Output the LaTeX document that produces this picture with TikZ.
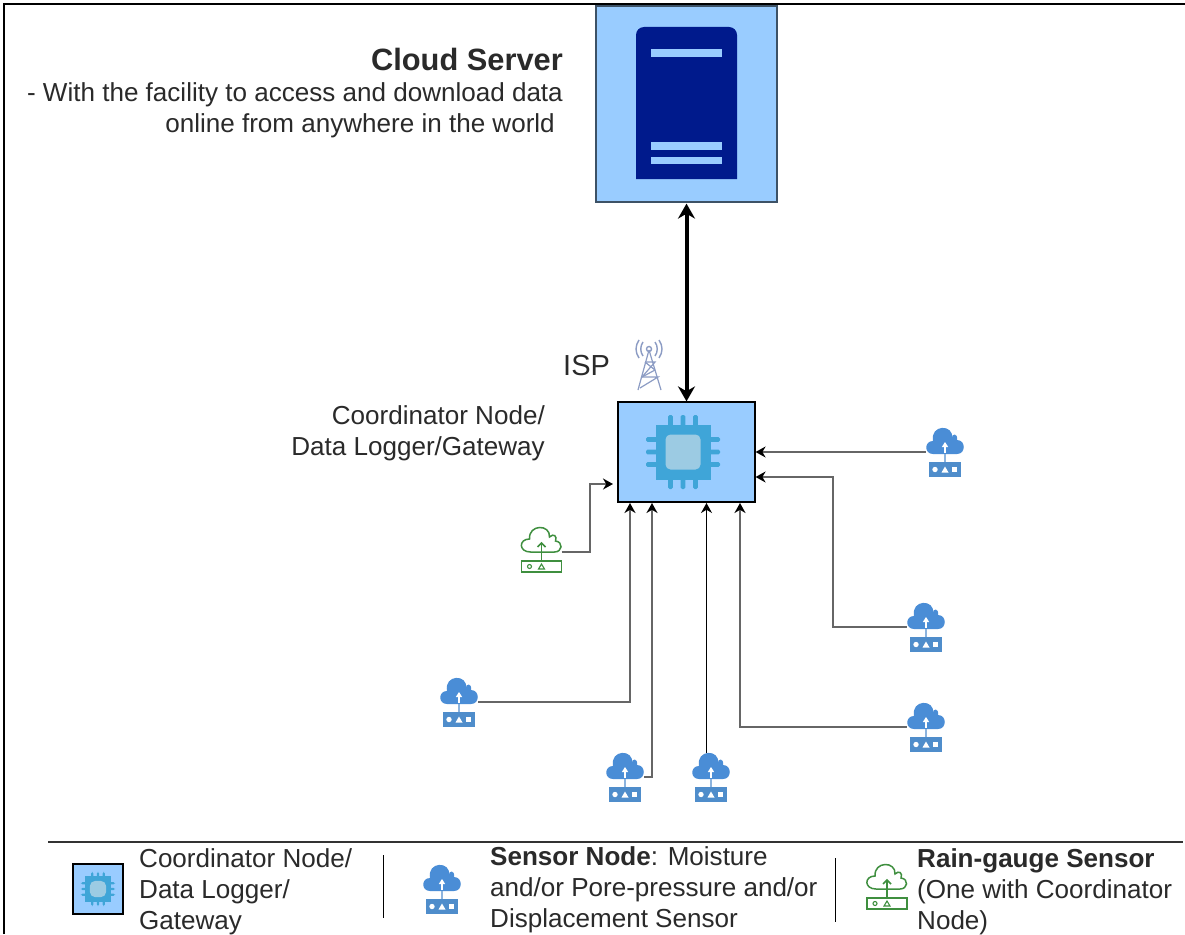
\documentclass[tikz,border=0pt]{standalone}
\usepackage{fontspec}
\setmainfont{Liberation Sans}
\usetikzlibrary{arrows.meta,calc}
\definecolor{panel}{HTML}{99CCFF}
\definecolor{srv}{HTML}{001A8C}
\definecolor{chipbody}{HTML}{3FA5D8}
\definecolor{chipcore}{HTML}{9CCBE3}
\definecolor{cloudblue}{HTML}{4A8DD6}
\definecolor{boxblue}{HTML}{4F8DCB}
\definecolor{stemblue}{HTML}{8DB4DE}
\definecolor{gauge}{HTML}{3F8F3F}
\definecolor{mast}{HTML}{8C9CC4}
\definecolor{wire}{HTML}{666666}
\definecolor{txt}{HTML}{2A2A2A}
\tikzset{
  x=1pt,y=-1pt,
  panelbox/.style={draw=black,line width=1.2pt,fill=panel,inner sep=0pt},
  anchorpt/.style={inner sep=0pt,minimum width=38pt,minimum height=0pt},
  wirearrow/.style={draw=wire,line width=1.8pt,-{Stealth[black,length=10pt,width=11pt]}},
  bigarrow/.style={draw=black,line width=4pt,{Stealth[length=15pt,width=17pt]}-{Stealth[length=15pt,width=17pt]}},
  label/.style={inner sep=0pt,text=txt,font=\fontsize{26.05}{31}\selectfont},
  sepline/.style={draw=black,line width=1pt},
  pics/sensor/.style={code={
    \fill[cloudblue] (-12,2) .. controls (-21,2) and (-21,-11) .. (-12,-11)
      .. controls (-15,-28) and (9,-28) .. (7,-14)
      .. controls (7,-19) and (13,-19) .. (12,-12)
      .. controls (21,-12) and (21,2) .. (12,2) -- cycle;
    \draw[stemblue,line width=1.2pt] (0,2) -- (0,10);
    \draw[white,line width=1.4pt] (0,1) -- (0,-6);
    \fill[white] (0,-10) -- (3.2,-5) -- (-3.2,-5) -- cycle;
    \fill[boxblue] (-16.5,10) rectangle (15.5,25);
    \fill[white] (-10,17.5) circle (2.7);
    \fill[white] (0,14.5) -- (3.5,20.5) -- (-3.5,20.5) -- cycle;
    \fill[white] (7,15) rectangle (12,20);
  }},
  pics/gaugeicon/.style={code={
    \draw[gauge,line width=1.5pt] (-11,0) .. controls (-23,0) and (-23,-13) .. (-12,-13)
      .. controls (-13,-28) and (9,-28) .. (8,-15)
      .. controls (12,-19) and (16,-16) .. (14,-11)
      .. controls (22,-10) and (21,0) .. (13,0) -- cycle;
    \draw[gauge,line width=1.5pt] (0,9) -- (0,-9);
    \draw[gauge,line width=1.5pt] (-4,-5) -- (0,-9) -- (4,-5);
    \draw[gauge,line width=1.5pt] (-20,9) rectangle (20,20);
    \draw[gauge,line width=1.1pt] (-12,14.5) circle (2);
    \draw[gauge,line width=1.1pt] (0,12) -- (3,17) -- (-3,17) -- cycle;
  }},
  pics/chip/.style={code={
    \foreach \p in {-12.5,0,12.5}{
      \fill[chipbody,rounded corners=1.5] (\p-2.3,-37) rectangle (\p+2.3,-25);
      \fill[chipbody,rounded corners=1.5] (\p-2.3,25) rectangle (\p+2.3,37);
      \fill[chipbody,rounded corners=1.5] (-37,\p-2.3) rectangle (-25,\p+2.3);
      \fill[chipbody,rounded corners=1.5] (25,\p-2.3) rectangle (37,\p+2.3);
    }
    \fill[chipbody] (-27.5,-27.5) rectangle (27.5,27.5);
    \fill[chipcore,rounded corners=5] (-17.5,-17.5) rectangle (17.5,17.5);
  }},
}
\begin{document}
\begin{tikzpicture}
\useasboundingbox (0,0) rectangle (1185,934);
\fill[white] (0,0) rectangle (1185,934);
% outer frame
\draw[black,line width=2pt] (3.5,934) -- (3.5,4) -- (1185,4);
% cloud server
\node[panelbox,draw=black!60!panel,minimum width=181pt,minimum height=196pt] (cloud) at (686.5,104) {};
\fill[srv] (636,179) {[rounded corners=8] -- (636,27) -- (737,27)} -- (737,179) -- cycle;
\fill[panel] (651,49) rectangle (722,57);
\fill[panel] (651,142) rectangle (722,150);
\fill[panel] (651,157) rectangle (722,164);
\node[label,anchor=north east,align=right] (cloudtxt) at (563,48)
  {\fontsize{30.8}{36}\selectfont\bfseries Cloud Server\\
   - With the facility to access and download data\\
   online from anywhere in the world\hspace{8pt}\null};
% gateway
\node[panelbox,minimum width=137pt,minimum height=100pt] (gw) at (686.5,452) {};
\pic at (683,452) {chip};
\node[label,anchor=north east,align=right] (gwtxt) at (545,405)
  {Coordinator Node/\\Data Logger/Gateway};
% ISP
\node[label,anchor=base west,font=\fontsize{29}{31}\selectfont] (isp) at (563,375) {ISP};
\begin{scope}[mast,line width=1.2pt]
  \draw (649,350) -- (638,390) (649,350) -- (661,390);
  \draw (645,362) -- (655,362) -- (642,377) -- (658,377) -- (640,388);
  \draw (645,362) -- (655,370) (655,370) -- (642,377);
  \draw[line width=1.4pt] (649,349) circle (2.5);
  \draw[line width=1.4pt] (643,342) .. controls (640,346) and (640,352) .. (643,356);
  \draw[line width=1.4pt] (655,342) .. controls (658,346) and (658,352) .. (655,356);
  \draw[line width=1.4pt] (639,340) .. controls (635,346) and (635,352) .. (639,358);
  \draw[line width=1.4pt] (659,340) .. controls (663,346) and (663,352) .. (659,358);
\end{scope}
% sensors
\node[anchorpt] (s1) at (945,452) {}; \pic at (s1) {sensor};
\node[anchorpt] (s2) at (926,627) {}; \pic at (s2) {sensor};
\node[anchorpt] (s3) at (926,727) {}; \pic at (s3) {sensor};
\node[anchorpt] (s4) at (459,702) {}; \pic at (s4) {sensor};
\node[anchorpt] (s5) at (625,777) {}; \pic at (s5) {sensor};
\node[anchorpt] (s6) at (711,777) {}; \pic at (s6) {sensor};
\node[anchorpt,minimum width=40pt] (rg) at (541.5,552) {}; \pic at (rg) {gaugeicon};
% connectors
\draw[bigarrow] (cloud.south) ++(0,1) -- (gw.north);
\draw[wirearrow] (s1.west) -- (s1.west -| gw.east);
\draw[wirearrow] (s2.west) -- (833,627) -- (833,477) -- (gw.east |- 0,477);
\draw[wirearrow] (s3.west) -- (740,727) -- (740,503);
\draw[wirearrow] (s4.east) -- (630,702) -- (630,503);
\draw[wirearrow] (s5.east) -- (652,777) -- (652,503);
\draw[wirearrow,draw=black,line width=1.3pt] (706.5,753) -- (706.5,503);
\draw[wirearrow] (rg.east) -- (590,552) -- (590,484) -- (613,484);
% legend
\draw[draw=black!80,line width=2.2pt] (48,842) -- (1183,842);
\node[panelbox,minimum width=50pt,minimum height=50pt] (lg1) at (98,889) {};
\pic[scale=.46] at (98,889) {chip};
\node[label,anchor=west,align=left] (lt1) at (139,892) {Coordinator Node/\\Data Logger/\\Gateway};
\draw[sepline] (383,855) -- (383,918);
\node[anchorpt] (lg2) at (442,889) {}; \pic at (lg2) {sensor};
\node[label,anchor=west,align=left] (lt2) at (490,890) {\textbf{Sensor Node}: Moisture\\and/or Pore-pressure and/or\\Displacement Sensor};
\draw[sepline] (835,858) -- (835,922);
\node[anchorpt,minimum width=40pt] (lg3) at (887,889) {}; \pic at (lg3) {gaugeicon};
\node[label,anchor=west,align=left] (lt3) at (917,892) {\textbf{Rain-gauge Sensor}\\(One with Coordinator\\Node)};
\end{tikzpicture}
\end{document}
